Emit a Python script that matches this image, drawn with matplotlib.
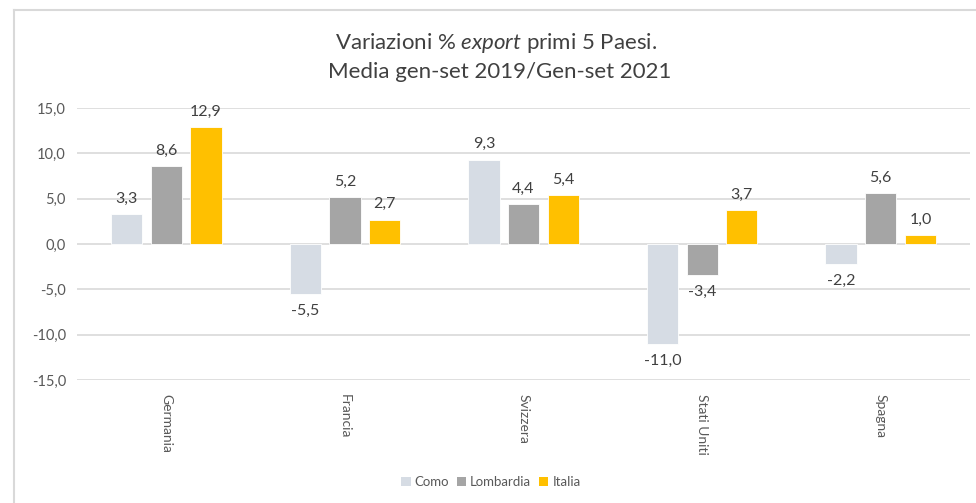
import numpy as np
import matplotlib.pyplot as plt
from matplotlib.patches import Patch
from matplotlib.lines import Line2D

# data
countries = ["Germania", "Francia", "Svizzera", "Stati Uniti", "Spagna"]
como = [3.3, -5.5, 9.3, -11.0, -2.2]
lombardia = [8.6, 5.2, 4.4, -3.4, 5.6]
italia = [12.9, 2.7, 5.4, 3.7, 1.0]
series_names = ["Como", "Lombardia", "Italia"]
colors = ["#D6DCE4", "#A5A5A5", "#FFC000"]
yticks = [-15, -10, -5, 0, 5, 10, 15]

plt.rcParams["font.family"] = ["Lato", "DejaVu Sans"]
plt.rcParams["mathtext.fontset"] = "custom"
plt.rcParams["mathtext.it"] = "Lato:italic"
plt.rcParams["mathtext.rm"] = "Lato"


def fmt(v):
    return f"{v:.1f}".replace(".", ",")


fig = plt.figure(figsize=(9.76, 5.03), dpi=100)
ax = fig.add_axes([0.0789, 0.2445, 0.915, 0.5408])

x = np.arange(len(countries))
width = 0.175
step = 0.222
for i, (vals, col) in enumerate(zip([como, lombardia, italia], colors)):
    xs = x + (i - 1) * step
    ax.bar(xs, vals, width=width, color=col, edgecolor="white", linewidth=0.6, zorder=3)
    for xi, v in zip(xs, vals):
        off = 6 if v >= 0 else -7
        ax.annotate(fmt(v), (xi, v), xytext=(0, off), textcoords="offset points",
                    ha="center", va="bottom" if v >= 0 else "top",
                    fontsize=11.5, color="#404040")

ax.set_xlim(-0.5, len(countries) - 0.5)
ax.set_ylim(-15, 15)
ax.set_yticks(yticks)
ax.set_yticklabels([fmt(t) for t in yticks], fontsize=10.5, color="#595959")
ax.set_xticks(x)
ax.set_xticklabels(countries, rotation=270, fontsize=10, color="#595959", va="top")
ax.tick_params(axis="both", length=0, pad=8)
ax.tick_params(axis="x", pad=10)
ax.yaxis.grid(True, color="#D9D9D9", linewidth=1.2, zorder=0)
for s in ax.spines.values():
    s.set_visible(False)

fig.text(0.508, 0.915, "Variazioni % $\\it{export}$ primi 5 Paesi.", ha="center",
         va="center", fontsize=16, color="#404040")
fig.text(0.512, 0.857, "Media gen-set 2019/Gen-set 2021", ha="center",
         va="center", fontsize=16, color="#404040")

handles = [Patch(facecolor=c, edgecolor="none") for c in colors]
fig.legend(handles, series_names, loc="center", bbox_to_anchor=(0.503, 0.041),
           ncol=3, frameon=False, fontsize=9.5, handlelength=0.7, handleheight=0.7,
           columnspacing=0.6, handletextpad=0.3, labelcolor="#595959")

# chart frame (left and top edges visible)
fig.add_artist(Line2D([0.0143, 0.0143], [0.0, 0.980], transform=fig.transFigure,
                      color="#D9D9D9", linewidth=1.5))
fig.add_artist(Line2D([0.0143, 1.0], [0.980, 0.980], transform=fig.transFigure,
                      color="#D9D9D9", linewidth=1.5))

fig.savefig("out.png", dpi=100)
